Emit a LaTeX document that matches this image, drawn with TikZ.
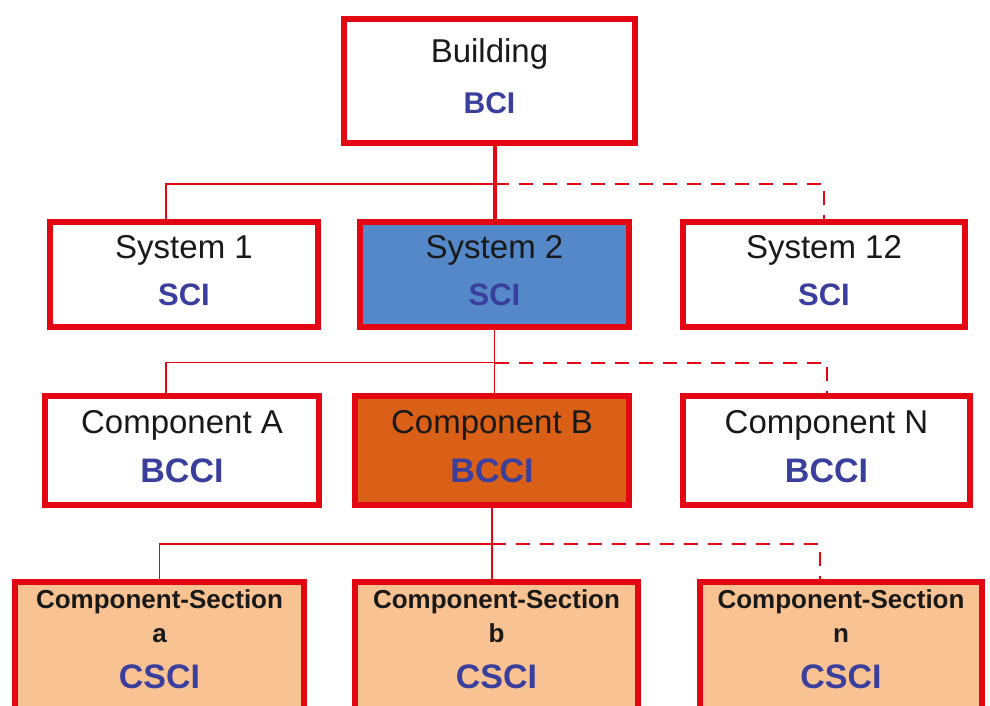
\documentclass[tikz,border=0pt]{standalone}
\usepackage{fontspec}
\setmainfont{Liberation Sans}
\usetikzlibrary{positioning}

\definecolor{boxred}{RGB}{227,6,19}
\definecolor{idxblue}{RGB}{58,62,156}
\definecolor{sysblue}{RGB}{84,136,200}
\definecolor{comporange}{RGB}{218,96,24}
\definecolor{secpeach}{RGB}{248,194,146}

\newcommand{\idx}[2]{{\fontsize{#1}{#1}\selectfont\bfseries\color{idxblue}#2}}

\tikzset{
  box/.style={draw=boxred, line width=6pt, fill=white, align=center, inner sep=0pt, text=black!90},
  bldgbox/.style={box, minimum width=291pt, minimum height=124pt, font=\fontsize{33}{38}\selectfont},
  sysbox/.style={box, minimum height=105pt, font=\fontsize{33}{38}\selectfont},
  compbox/.style={box, minimum height=109pt, font=\fontsize{33}{38}\selectfont},
  secbox/.style={box, fill=secpeach, minimum height=160pt, font=\bfseries\fontsize{26}{34}\selectfont},
  link/.style={draw=boxred, line width=1.5pt},
  optlink/.style={link, line width=2pt, dash pattern=on 14pt off 10pt},
  trunk/.style={link, line width=4pt}
}

\begin{document}
\begin{tikzpicture}[x=1pt, y=1pt, on grid]
  \useasboundingbox (0,0) rectangle (990,-706);
  \clip (0,0) rectangle (990,-706);

  \node[bldgbox] (bldg) at (489.5,-81) {Building\\[13pt]\idx{30}{BCI}\rule[-9pt]{0pt}{0pt}};

  % systems
  \node[sysbox, minimum width=269pt, fill=sysblue] (sys2) [below=193pt of bldg, xshift=5pt] {System 2\\[9pt]\idx{31}{SCI}\rule[-8pt]{0pt}{0pt}};
  \node[sysbox, minimum width=268pt] (sys1) [left=310.5pt of sys2] {System 1\\[9pt]\idx{31}{SCI}\rule[-8pt]{0pt}{0pt}};
  \node[sysbox, minimum width=282pt] (sys12) [right=329.5pt of sys2] {System 12\\[9pt]\idx{31}{SCI}\rule[-8pt]{0pt}{0pt}};

  % components
  \node[compbox, minimum width=274pt, fill=comporange] (compB) [below=176.5pt of sys2, xshift=-2.5pt] {Component B\\[11pt]\idx{34}{BCCI}\rule[-8pt]{0pt}{0pt}};
  \node[compbox, minimum width=274pt] (compA) [left=310pt of compB] {Component A\\[11pt]\idx{34}{BCCI}\rule[-8pt]{0pt}{0pt}};
  \node[compbox, minimum width=287pt] (compN) [right=334.5pt of compB] {Component N\\[11pt]\idx{34}{BCCI}\rule[-8pt]{0pt}{0pt}};

  % component sections
  \node[secbox, minimum width=283pt] (secB) [below=211.5pt of compB, xshift=4.5pt] {Component-Section\\ b\\[12pt]\idx{34}{CSCI}\rule[-45pt]{0pt}{0pt}};
  \node[secbox, minimum width=289pt] (secA) [left=337pt of secB] {Component-Section\\ a\\[12pt]\idx{34}{CSCI}\rule[-45pt]{0pt}{0pt}};
  \node[secbox, minimum width=282pt] (secN) [right=344.5pt of secB] {Component-Section\\ n\\[12pt]\idx{34}{CSCI}\rule[-45pt]{0pt}{0pt}};

  % building -> systems
  \coordinate (bus1) at ([yshift=-38pt]bldg.south);
  \draw[trunk] (bldg.south -| sys2.north) -- (sys2.north);
  \draw[link] (bus1 -| sys2.north) -| ([xshift=-18pt]sys1.north);
  \draw[optlink] (bus1 -| sys2.north) -| (sys12.north);

  % system -> components
  \coordinate (bus2) at ([yshift=-33pt]sys2.south);
  \draw[link] (sys2.south) -- (sys2.south |- compB.north);
  \draw[link] (bus2) -| ([xshift=-16pt]compA.north);
  \draw[optlink] (bus2) -| (compN.north);

  % component -> sections
  \coordinate (bus3) at ([yshift=-36pt]compB.south);
  \draw[link] (compB.south) -- (compB.south |- secB.north);
  \draw[link] (bus3) -| (secA.north);
  \draw[optlink] (bus3) -| ([xshift=-21pt]secN.north);
\end{tikzpicture}
\end{document}
